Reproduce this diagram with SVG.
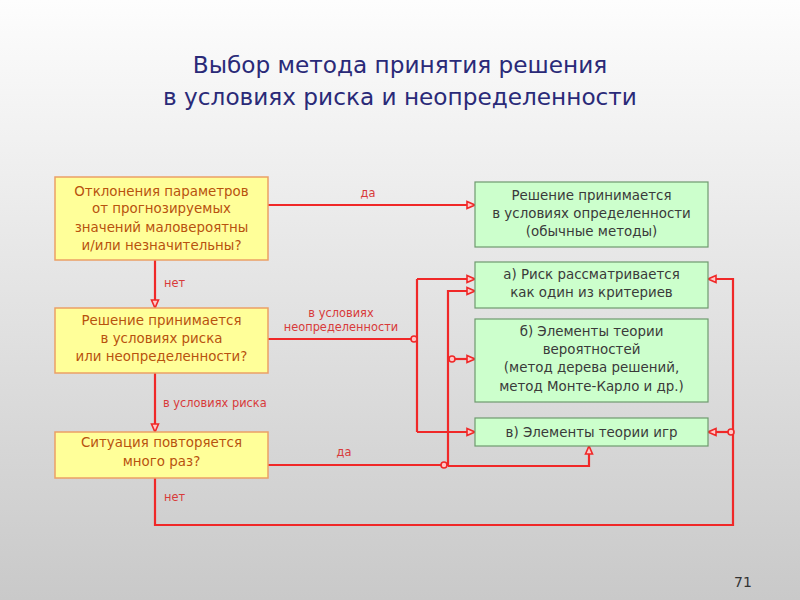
<svg xmlns="http://www.w3.org/2000/svg" width="800" height="600" viewBox="0 0 800 600">
<defs>
<linearGradient id="bg" x1="0" y1="0" x2="0" y2="1">
<stop offset="0" stop-color="#fdfdfd"/>
<stop offset="1" stop-color="#c9c9c9"/>
</linearGradient>
<marker id="arr" viewBox="0 0 10 10" refX="9" refY="5" markerWidth="10" markerHeight="10" markerUnits="userSpaceOnUse" orient="auto">
<path d="M1,1.5 L9,5 L1,8.5 Z" fill="#ffc8c8" stroke="#f02828" stroke-width="1.6"/>
</marker>
<style>
.title{font-family:"DejaVu Sans",Verdana,sans-serif;font-size:23.2px;fill:#2a2a78;text-anchor:middle}
.yb{fill:#ffff99;stroke:#eba066;stroke-width:1.5}
.gb{fill:#ccffcc;stroke:#6e9a6e;stroke-width:1.2}
.yt{font-family:"DejaVu Sans",Verdana,sans-serif;font-size:13.4px;fill:#b8520e;text-anchor:middle}
.gt{font-family:"DejaVu Sans",Verdana,sans-serif;font-size:13.4px;fill:#3a3a3a;text-anchor:middle}
.lb{font-family:"DejaVu Sans",Verdana,sans-serif;font-size:11.4px;fill:#d83a3a}
.ln{fill:none;stroke:#f02828;stroke-width:2.2}
.ar{marker-end:url(#arr)}
.dot{fill:#ffc8c8;stroke:#f02828;stroke-width:1.6}
.pg{font-family:"DejaVu Sans",Verdana,sans-serif;font-size:14px;fill:#333}
</style>
</defs>
<rect x="0" y="0" width="800" height="600" fill="url(#bg)"/>
<text class="title" x="400" y="73">Выбор метода принятия решения</text>
<text class="title" x="400" y="105">в условиях риска и неопределенности</text>

<g id="connectors">
<path class="ln ar" d="M155,260 V308"/>
<path class="ln ar" d="M268,205 H475"/>
<path class="ln" d="M268,339 H417"/>
<path class="ln" d="M417,279 V432"/>
<path class="ln ar" d="M417,279 H475"/>
<path class="ln ar" d="M417,432 H475"/>
<path class="ln ar" d="M155,373 V432"/>
<path class="ln" d="M268,465 H448"/>
<path class="ln ar" d="M448,466 V291 H475"/>
<path class="ln ar" d="M448,359 H475"/>
<path class="ln ar" d="M448,466 H589 V446"/>
<path class="ln ar" d="M155,478 V525 H733 V279 H708"/>
<path class="ln ar" d="M733,432 H708"/>
<circle class="dot" cx="414" cy="339" r="3"/>
<circle class="dot" cx="452" cy="359" r="3"/>
<circle class="dot" cx="444" cy="465" r="3"/>
<circle class="dot" cx="731" cy="432" r="3"/>
<text class="lb" x="368" y="197" text-anchor="middle">да</text>
<text class="lb" x="164" y="287">нет</text>
<text class="lb" x="341" y="317" text-anchor="middle">в условиях</text>
<text class="lb" x="341" y="331" text-anchor="middle">неопределенности</text>
<text class="lb" x="163" y="407">в условиях риска</text>
<text class="lb" x="344" y="456" text-anchor="middle">да</text>
<text class="lb" x="164" y="501">нет</text>
</g>

<g id="q1">
<rect class="yb" x="55" y="177" width="213" height="83"/>
<text class="yt" x="161.5" y="196">Отклонения параметров</text>
<text class="yt" x="161.5" y="213">от прогнозируемых</text>
<text class="yt" x="161.5" y="232">значений маловероятны</text>
<text class="yt" x="161.5" y="250">и/или незначительны?</text>
</g>
<g id="q2">
<rect class="yb" x="55" y="308" width="213" height="65"/>
<text class="yt" x="161.5" y="325">Решение принимается</text>
<text class="yt" x="161.5" y="343">в условиях риска</text>
<text class="yt" x="161.5" y="361">или неопределенности?</text>
</g>
<g id="q3">
<rect class="yb" x="55" y="432" width="213" height="46"/>
<text class="yt" x="161.5" y="447">Ситуация повторяется</text>
<text class="yt" x="161.5" y="466">много раз?</text>
</g>
<g id="r0">
<rect class="gb" x="475" y="182" width="233" height="65"/>
<text class="gt" x="591.5" y="200">Решение принимается</text>
<text class="gt" x="591.5" y="218">в условиях определенности</text>
<text class="gt" x="591.5" y="236">(обычные методы)</text>
</g>
<g id="ra">
<rect class="gb" x="475" y="262" width="233" height="46"/>
<text class="gt" x="591.5" y="279">а) Риск рассматривается</text>
<text class="gt" x="591.5" y="297">как один из критериев</text>
</g>
<g id="rb">
<rect class="gb" x="475" y="319" width="233" height="83"/>
<text class="gt" x="591.5" y="336">б) Элементы теории</text>
<text class="gt" x="591.5" y="354">вероятностей</text>
<text class="gt" x="591.5" y="372">(метод дерева решений,</text>
<text class="gt" x="591.5" y="391">метод Монте-Карло и др.)</text>
</g>
<g id="rc">
<rect class="gb" x="475" y="418" width="233" height="28"/>
<text class="gt" x="591.5" y="437">в) Элементы теории игр</text>
</g>
<text class="pg" x="743" y="587" text-anchor="middle">71</text>
</svg>
